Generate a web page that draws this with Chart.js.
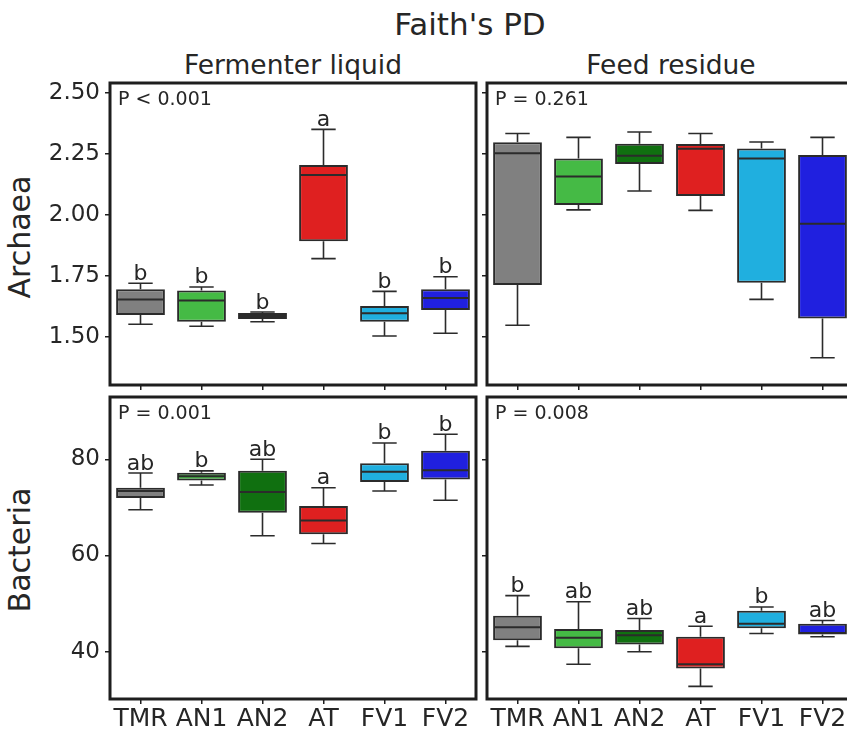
<!DOCTYPE html>
<html>
<head>
<meta charset="utf-8">
<script src="https://cdn.jsdelivr.net/npm/chart.js@4.4.1/dist/chart.umd.min.js"></script>
<style>
  html, body { margin: 0; padding: 0; background: #fff; overflow: hidden; }
  body { width: 847px; height: 730px; position: relative; font-family: 'DejaVu Sans', sans-serif; color: #262626; }
  .txt { position: absolute; white-space: nowrap; text-align: center; }
  .ylab { width: 200px; font-size: 30px; line-height: 30px; transform: rotate(-90deg); transform-origin: 50% 50%; }
  canvas { position: absolute; }
</style>
</head>
<body>
<div class="txt" style="left:270px;top:9px;width:400px;font-size:31px;line-height:31px;">Faith's PD</div>
<div class="txt" style="left:143px;top:52px;width:300px;font-size:26.5px;line-height:26.5px;">Fermenter liquid</div>
<div class="txt" style="left:521px;top:52px;width:300px;font-size:26.5px;line-height:26.5px;">Feed residue</div>
<div class="txt ylab" style="left:-80px;top:222px;">Archaea</div>
<div class="txt ylab" style="left:-80px;top:535px;">Bacteria</div>

<canvas id="tl" width="480" height="320" style="left:0;top:75px;"></canvas>
<canvas id="tr" width="400" height="320" style="left:477px;top:75px;"></canvas>
<canvas id="bl" width="480" height="340" style="left:0;top:390px;"></canvas>
<canvas id="br" width="400" height="340" style="left:477px;top:390px;"></canvas>

<script>
// categories and tick labels
const categories = ['TMR', 'AN1', 'AN2', 'AT', 'FV1', 'FV2'];
const colors = ['#808080', '#45ba45', '#107010', '#df2020', '#20afdf', '#2020df'];
const archaeaTicks = [1.50, 1.75, 2.00, 2.25, 2.50];
const bacteriaTicks = [40, 60, 80];

// Archaea, fermenter liquid
const flArchLow  = [1.551, 1.543, 1.561, 1.820, 1.503, 1.514];
const flArchQ1   = [1.589, 1.561, 1.573, 1.891, 1.561, 1.609];
const flArchMed  = [1.653, 1.648, 1.585, 2.163, 1.596, 1.659];
const flArchQ3   = [1.694, 1.689, 1.597, 2.204, 1.626, 1.694];
const flArchHigh = [1.719, 1.704, 1.601, 2.350, 1.686, 1.746];
const flArchLetters = ['b', 'b', 'b', 'a', 'b', 'b'];

// Archaea, feed residue
const frArchLow  = [1.547, 2.020, 2.097, 2.018, 1.653, 1.414];
const frArchQ1   = [1.712, 2.040, 2.208, 2.077, 1.721, 1.575];
const frArchMed  = [2.252, 2.157, 2.242, 2.270, 2.230, 1.963];
const frArchQ3   = [2.297, 2.230, 2.291, 2.290, 2.272, 2.245];
const frArchHigh = [2.333, 2.317, 2.339, 2.333, 2.298, 2.317];

// Bacteria, fermenter liquid
const flBactLow  = [69.5, 74.65, 64.1, 62.5, 73.4, 71.5];
const flBactQ1   = [71.95, 75.6, 68.9, 64.4, 75.3, 75.8];
const flBactMed  = [73.4, 76.5, 73.2, 67.3, 77.4, 77.7];
const flBactQ3   = [74.1, 77.2, 77.6, 70.3, 79.2, 81.8];
const flBactHigh = [77.15, 77.6, 80.0, 74.1, 83.4, 85.2];
const flBactLetters = ['ab', 'b', 'ab', 'a', 'b', 'b'];

// Bacteria, feed residue
const frBactLow  = [41.1, 37.4, 40.0, 32.8, 43.8, 43.1];
const frBactQ1   = [42.4, 40.7, 41.5, 36.5, 44.9, 43.6];
const frBactMed  = [45.1, 42.9, 43.4, 37.4, 45.8, 43.9];
const frBactQ3   = [47.5, 44.7, 44.5, 43.1, 48.5, 45.8];
const frBactHigh = [51.65, 50.4, 46.9, 45.3, 49.3, 46.5];
const frBactLetters = ['b', 'ab', 'ab', 'a', 'b', 'ab'];

const INK = '#262626';
const EDGE = '#2b2b2b';
const FONT = "'DejaVu Sans', sans-serif";

// whiskers, medians, letters, p value and the frame, all placed by the chart's scales
function boxExtras(low, med, high, letters, pText) {
  return {
    id: 'boxExtras',
    beforeDatasetsDraw(chart) {
      const { ctx, scales: { x, y } } = chart;
      const cap = (x.getPixelForValue(1) - x.getPixelForValue(0)) * 0.2;
      ctx.save();
      ctx.strokeStyle = EDGE;
      ctx.lineWidth = 1.6;
      ctx.beginPath();
      low.forEach((lo, i) => {
        const cx = x.getPixelForValue(i);
        const ds = chart.data.datasets[0].data[i];
        const yl = y.getPixelForValue(lo), yh = y.getPixelForValue(high[i]);
        ctx.moveTo(cx, yl); ctx.lineTo(cx, y.getPixelForValue(ds[0]));
        ctx.moveTo(cx, y.getPixelForValue(ds[1])); ctx.lineTo(cx, yh);
        ctx.moveTo(cx - cap, yl); ctx.lineTo(cx + cap, yl);
        ctx.moveTo(cx - cap, yh); ctx.lineTo(cx + cap, yh);
      });
      ctx.stroke();
      ctx.restore();
    },
    afterDatasetsDraw(chart) {
      const { ctx, chartArea: a, scales: { x, y } } = chart;
      const half = (x.getPixelForValue(1) - x.getPixelForValue(0)) * 0.4 - 1;
      ctx.save();
      ctx.strokeStyle = EDGE;
      ctx.lineWidth = 2;
      ctx.beginPath();
      med.forEach((m, i) => {
        const cx = x.getPixelForValue(i), my = y.getPixelForValue(m);
        ctx.moveTo(cx - half, my); ctx.lineTo(cx + half, my);
      });
      ctx.stroke();

      ctx.fillStyle = INK;
      ctx.textAlign = 'center';
      ctx.textBaseline = 'alphabetic';
      ctx.font = '22px ' + FONT;
      (letters || []).forEach((t, i) => {
        ctx.fillText(t, x.getPixelForValue(i), y.getPixelForValue(high[i]) - 3.5);
      });

      ctx.textAlign = 'left';
      ctx.font = '19px ' + FONT;
      ctx.fillText(pText, a.left + 8, a.top + 22);

      ctx.strokeStyle = '#1e1e1e';
      ctx.lineWidth = 3;
      ctx.strokeRect(a.left, a.top, a.right - a.left, a.bottom - a.top);
      ctx.restore();
    }
  };
}

function panel(id, p) {
  new Chart(document.getElementById(id), {
    type: 'bar',
    data: {
      labels: categories,
      datasets: [{
        data: p.q1.map((v, i) => [v, p.q3[i]]),
        backgroundColor: colors,
        borderColor: EDGE,
        borderWidth: 2,
        borderSkipped: false,
        barPercentage: 0.8,
        categoryPercentage: 1.0
      }]
    },
    options: {
      responsive: false,
      animation: false,
      layout: { padding: { top: p.padTop, right: p.padRight, left: 0, bottom: 0 } },
      plugins: { legend: { display: false }, tooltip: { enabled: false } },
      scales: {
        x: {
          type: 'category',
          offset: true,
          grid: { offset: false, drawOnChartArea: false, drawTicks: true, tickLength: 5, color: '#1e1e1e', lineWidth: 1.5 },
          border: { display: false },
          ticks: { display: p.xLabels, font: { family: FONT, size: 25 }, color: INK, padding: 0, maxRotation: 0, autoSkip: false },
          afterFit: s => { s.height = p.xHeight; s.paddingLeft = 0; s.paddingRight = 0; }
        },
        y: {
          min: p.min,
          max: p.max,
          grid: { drawOnChartArea: false, drawTicks: true, tickLength: 5, color: '#1e1e1e', lineWidth: 1.5 },
          border: { display: false },
          ticks: {
            display: p.yLabels,
            font: { family: FONT, size: 23 },
            color: INK,
            padding: 5,
            callback: v => p.fmt(v)
          },
          afterBuildTicks: s => { s.ticks = p.ticks.map(v => ({ value: v })); },
          afterFit: s => { s.width = p.yWidth; s.paddingTop = 0; s.paddingBottom = 0; }
        }
      }
    },
    plugins: [boxExtras(p.low, p.med, p.high, p.letters, p.pText)]
  });
}

const archFmt = v => v.toFixed(2);
const bactFmt = v => String(v);

panel('tl', { q1: flArchQ1, q3: flArchQ3, low: flArchLow, med: flArchMed, high: flArchHigh, letters: flArchLetters,
  pText: 'P < 0.001', min: 1.302, max: 2.540, ticks: archaeaTicks, fmt: archFmt,
  padTop: 8, padRight: 4, xHeight: 10, yWidth: 110, xLabels: false, yLabels: true });
panel('tr', { q1: frArchQ1, q3: frArchQ3, low: frArchLow, med: frArchMed, high: frArchHigh, letters: null,
  pText: 'P = 0.261', min: 1.302, max: 2.540, ticks: archaeaTicks, fmt: archFmt,
  padTop: 8, padRight: 24, xHeight: 10, yWidth: 10, xLabels: false, yLabels: false });
panel('bl', { q1: flBactQ1, q3: flBactQ3, low: flBactLow, med: flBactMed, high: flBactHigh, letters: flBactLetters,
  pText: 'P = 0.001', min: 30.17, max: 92.95, ticks: bacteriaTicks, fmt: bactFmt,
  padTop: 7, padRight: 4, xHeight: 31, yWidth: 110, xLabels: true, yLabels: true });
panel('br', { q1: frBactQ1, q3: frBactQ3, low: frBactLow, med: frBactMed, high: frBactHigh, letters: frBactLetters,
  pText: 'P = 0.008', min: 30.17, max: 92.95, ticks: bacteriaTicks, fmt: bactFmt,
  padTop: 7, padRight: 24, xHeight: 31, yWidth: 10, xLabels: true, yLabels: false });
</script>
</body>
</html>
